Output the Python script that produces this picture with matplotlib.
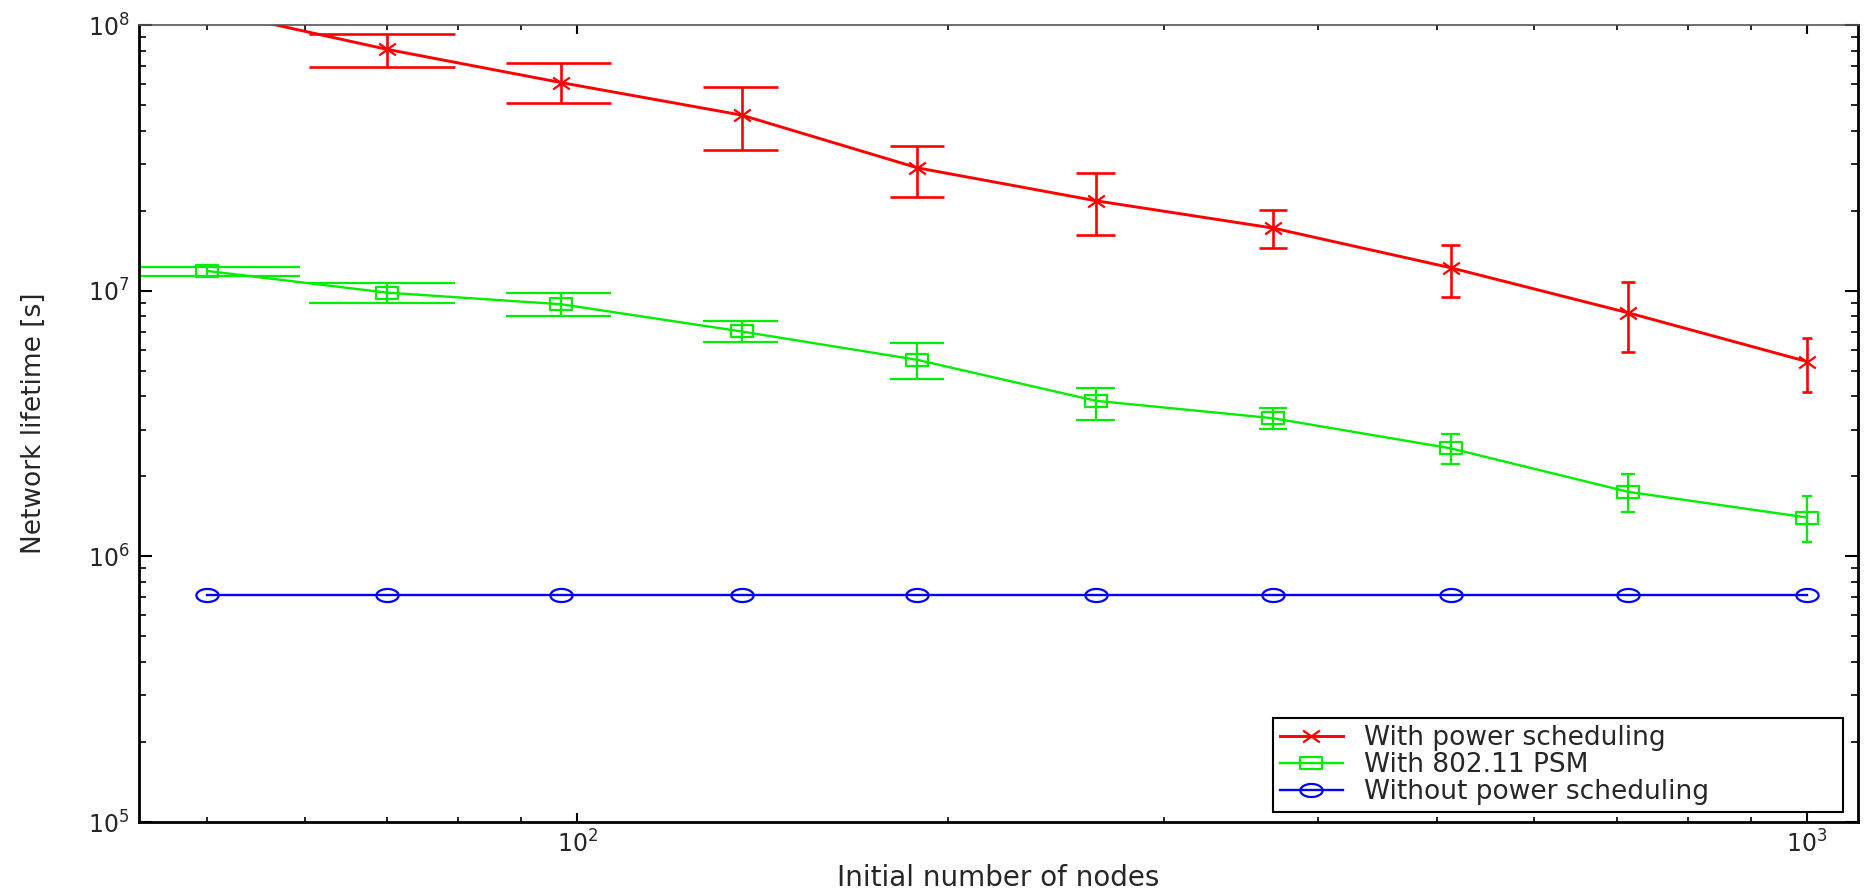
import numpy as np
import matplotlib
matplotlib.use("Agg")
import matplotlib.pyplot as plt
from matplotlib.path import Path
from matplotlib.ticker import LogLocator, NullFormatter

# ---------------- data ----------------
nodes = [50, 70, 97, 136, 189, 264, 368, 513, 715, 1000]

power_mean = [1.14e8, 8.10e7, 6.07e7, 4.58e7, 2.90e7, 2.18e7, 1.72e7, 1.22e7, 8.26e6, 5.41e6]
power_hi = [1.27e8, 9.27e7, 7.18e7, 5.86e7, 3.51e7, 2.77e7, 2.01e7, 1.49e7, 1.08e7, 6.65e6]
power_lo = [1.03e8, 6.93e7, 5.07e7, 3.39e7, 2.26e7, 1.62e7, 1.45e7, 9.50e6, 5.86e6, 4.15e6]

psm_mean = [1.186e7, 9.83e6, 8.89e6, 7.02e6, 5.49e6, 3.85e6, 3.31e6, 2.55e6, 1.75e6, 1.40e6]
psm_hi = [1.23e7, 1.07e7, 9.78e6, 7.69e6, 6.35e6, 4.32e6, 3.61e6, 2.89e6, 2.04e6, 1.69e6]
psm_lo = [1.135e7, 8.96e6, 8.05e6, 6.40e6, 4.65e6, 3.27e6, 3.01e6, 2.22e6, 1.47e6, 1.13e6]

nops_mean = [7.16e5, 7.16e5, 7.16e5, 7.16e5, 7.16e5, 7.16e5, 7.16e5, 7.16e5, 7.16e5, 7.16e5]

labels = ["With power scheduling", "With 802.11 PSM", "Without power scheduling"]
xlabel = "Initial number of nodes"
ylabel = "Network lifetime [s]"

# ---------------- style ----------------
plt.rcParams["font.family"] = ["DejaVu Sans"]
plt.rcParams["mathtext.fontset"] = "dejavusans"
TXT = "#262626"

# horizontally stretched markers (reference image is stretched)
t = np.linspace(0, 2 * np.pi, 64)
ellipse = Path(np.column_stack([1.7 * np.cos(t), np.sin(t)]), closed=True)
rect = Path([(-1.8, -1), (1.8, -1), (1.8, 1), (-1.8, 1), (-1.8, -1)], closed=True)
xmark = Path([(-1.4, -1), (1.4, 1), (-1.4, 1), (1.4, -1)],
             [Path.MOVETO, Path.LINETO, Path.MOVETO, Path.LINETO])

fig = plt.figure(figsize=(18.7, 8.9), dpi=100)
ax = fig.add_axes([139 / 1870, 1 - 822 / 890, (1858 - 139) / 1870, (822 - 25) / 890])
ax.set_xscale("log")
ax.set_yscale("log")

x = np.array(nodes, dtype=float)
tee = (x.max() - x.min()) / 100.0  # MATLAB-style errorbar cap half-width (data units)

series = [
    (power_mean, power_lo, power_hi, "#ff0000", xmark, 12, 2.1, 1.9),
    (psm_mean, psm_lo, psm_hi, "#00ee00", rect, 16, 1.7, 1.6),
    (nops_mean, None, None, "#0000ff", ellipse, 16, 1.7, 1.6),
]

for (m, lo, hi, col, mk, ms, lw, elw), lab in zip(series, labels):
    if lo is not None:
        ax.vlines(x, lo, hi, colors=col, linewidth=elw, zorder=2)
        ax.hlines(lo, x - tee, x + tee, colors=col, linewidth=elw, zorder=2)
        ax.hlines(hi, x - tee, x + tee, colors=col, linewidth=elw, zorder=2)
    ax.plot(x, m, color=col, linewidth=lw, marker=mk, markersize=ms,
            markerfacecolor="none", markeredgecolor=col, markeredgewidth=1.6,
            label=lab, zorder=3)

ax.set_xlim(44, 1100)
ax.set_ylim(1e5, 1e8)

ax.xaxis.set_major_locator(LogLocator(base=10, numticks=10))
ax.xaxis.set_minor_locator(LogLocator(base=10, subs=np.arange(2, 10), numticks=20))
ax.yaxis.set_major_locator(LogLocator(base=10, numticks=10))
ax.yaxis.set_minor_locator(LogLocator(base=10, subs=np.arange(2, 10), numticks=20))
ax.xaxis.set_minor_formatter(NullFormatter())
ax.yaxis.set_minor_formatter(NullFormatter())

ax.tick_params(which="both", direction="in", top=True, right=True, colors="black",
               labelcolor=TXT, labelsize=17)
ax.tick_params(axis="y", which="major", length=9.5, width=1.5, pad=7)
ax.tick_params(axis="y", which="minor", length=5, width=1.2)
ax.tick_params(axis="x", which="major", length=6.5, width=1.5, pad=6)
ax.tick_params(axis="x", which="minor", length=3.6, width=1.2)

for side in ["left", "bottom", "right"]:
    ax.spines[side].set_linewidth(2.0)
    ax.spines[side].set_color("black")
ax.spines["top"].set_linewidth(1.2)
ax.spines["top"].set_color("#555555")

ax.set_xlabel(xlabel, fontsize=20, color=TXT, va="top")
ax.xaxis.set_label_coords(0.5, -0.053)
ax.set_ylabel(ylabel, fontsize=19, color=TXT)
ax.yaxis.set_label_coords(-0.0535, 0.5)

x0 = (1273 - 139) / 1719
x1 = (1843 - 139) / 1719
y0 = (822 - 812) / 797
y1 = (822 - 730) / 797
leg = ax.legend(loc="lower left", bbox_to_anchor=(x0, y0, x1 - x0, y1 - y0), mode="expand",
                fontsize=19, frameon=True, fancybox=False, framealpha=1,
                edgecolor="black", borderpad=0.25, labelspacing=0.05,
                handlelength=2.4, handletextpad=0.8, borderaxespad=0)
leg.get_frame().set_linewidth(1.5)
for txt in leg.get_texts():
    txt.set_color(TXT)

fig.savefig("out.png", dpi=100, facecolor="white")
